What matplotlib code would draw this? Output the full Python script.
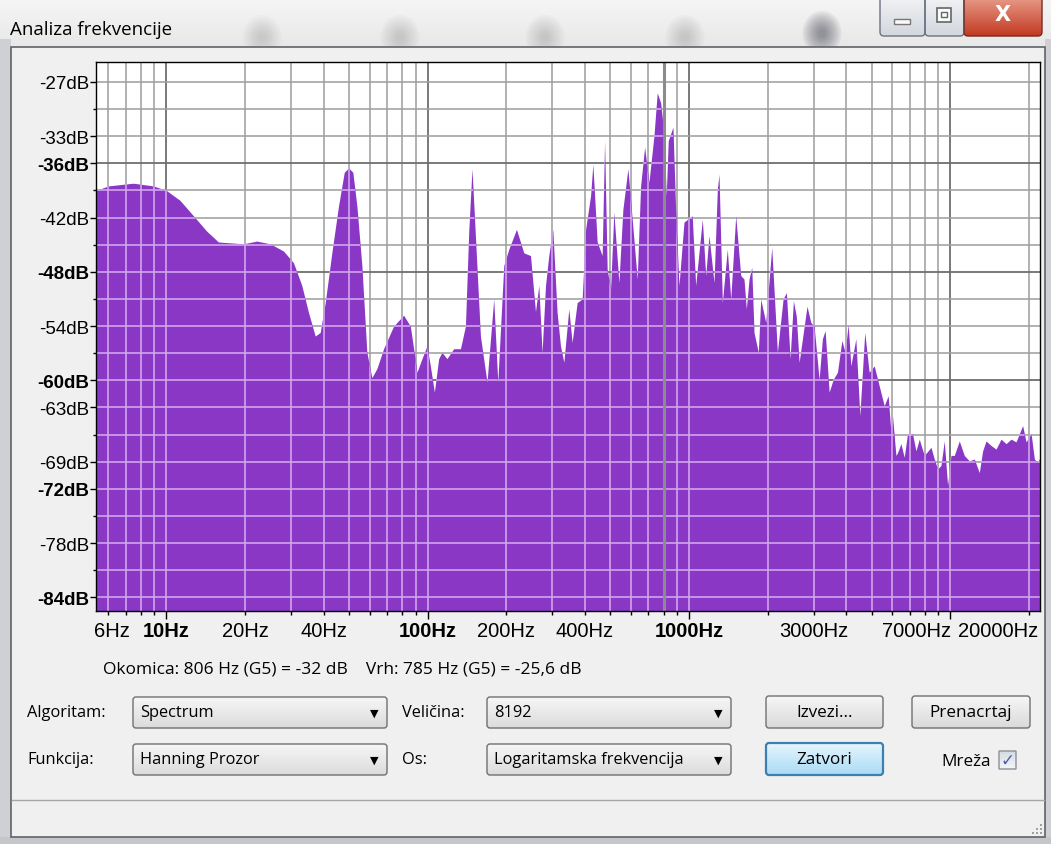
import numpy as np
import matplotlib
matplotlib.use("Agg")
import matplotlib.pyplot as plt
from matplotlib.patches import Rectangle, FancyBboxPatch, Ellipse
from matplotlib.colors import to_rgb
from matplotlib import transforms

# spectrum (Hz, dB)
freq = [5.38, 6.0, 7.47, 8.92, 10.0, 11.28, 12.69, 14.27, 15.82, 19.72, 22.18, 24.96,
        28.08, 30.66, 32.98, 35.0, 37.13, 38.8, 40.55, 42.98, 45.6, 47.95, 49.81, 51.73,
        53.59, 56.01, 58.53, 61.17, 63.92, 67.82, 74.06, 80.91, 85.83, 88.38, 91.0, 95.1,
        99.4, 102.4, 106.1, 110.2, 113.4, 118.5, 125.8, 133.5, 139.5, 143.6, 147.8, 152.3,
        159.2, 168.7, 179.0, 185.5, 195.6, 204.4, 218.7, 233.3, 247.5, 258.6, 266.3, 274.1,
        282.5, 290.8, 301.2, 312.9, 322.4, 332.0, 346.9, 357.2, 373.3, 390.2, 402.1, 420.2,
        428.8, 445.4, 465.4, 475.4, 486.4, 501.2, 516.0, 539.3, 558.6, 583.9, 603.3, 633.8,
        653.1, 676.6, 702.7, 734.4, 756.0, 779.1, 802.1, 818.5, 833.2, 868.5, 889.3, 915.8,
        957.2, 1029, 1061, 1125, 1159, 1193, 1247, 1284, 1303, 1342, 1402, 1445,
        1510, 1578, 1624, 1658, 1698, 1739, 1774, 1843, 1882, 1967, 2074, 2180,
        2292, 2360, 2438, 2510, 2575, 2640, 2830, 2926, 3013, 3148, 3241, 3320,
        3440, 3563, 3701, 3848, 3960, 4067, 4164, 4352, 4508, 4707, 4893, 5116,
        5346, 5587, 5786, 5926, 6010, 6194, 6282, 6473, 6665, 6862, 7172, 7390,
        7608, 7952, 8438, 8687, 8942, 9215, 9485, 9766, 10062, 10359, 10827, 11314,
        11824, 12359, 12915, 13298, 13703, 14320, 14966, 15642, 16347, 17084, 17851, 18923,
        19498, 20385, 20985, 21606, 22050]
level = [-39.0, -38.5, -38.2, -38.5, -39.0, -40.1, -41.8, -43.5, -44.7, -44.9, -44.6, -44.9,
         -45.7, -47.0, -49.5, -52.5, -55.1, -54.7, -51.4, -45.9, -40.7, -37.0, -36.5, -37.0,
         -40.7, -47.3, -56.9, -59.7, -58.7, -56.5, -54.0, -52.8, -54.0, -56.5, -59.1, -57.6,
         -56.2, -58.4, -61.3, -57.6, -56.9, -57.6, -56.5, -56.5, -54.0, -43.6, -36.6, -44.0,
         -55.1, -60.2, -51.0, -60.2, -47.3, -45.5, -43.3, -45.9, -46.2, -52.4, -49.5, -56.9,
         -49.5, -46.2, -43.3, -52.5, -56.2, -58.0, -52.1, -55.8, -51.4, -51.0, -43.3, -39.6,
         -36.1, -44.7, -46.2, -33.5, -47.7, -49.9, -41.4, -49.2, -41.1, -36.6, -41.4, -48.8,
         -38.5, -34.2, -38.1, -33.0, -28.2, -29.3, -32.6, -39.6, -33.5, -32.0, -41.1, -49.5,
         -42.5, -41.8, -49.5, -42.2, -48.4, -44.0, -49.2, -38.9, -37.2, -51.4, -45.5, -51.0,
         -41.8, -48.4, -48.8, -52.1, -48.8, -47.5, -54.7, -56.9, -51.0, -53.6, -45.3, -56.9,
         -51.0, -50.3, -57.6, -51.2, -52.9, -58.0, -51.8, -53.6, -54.0, -59.9, -55.4, -54.5,
         -61.3, -59.9, -59.1, -55.6, -56.9, -53.8, -58.4, -55.4, -63.9, -54.7, -59.1, -58.4,
         -60.6, -62.8, -61.7, -65.7, -63.9, -68.3, -68.0, -67.0, -68.5, -65.9, -65.9, -67.8,
         -66.5, -68.3, -67.4, -68.7, -69.8, -69.4, -66.7, -71.6, -68.3, -68.3, -66.7, -68.3,
         -68.9, -68.7, -70.2, -67.8, -66.7, -67.2, -67.6, -66.5, -67.0, -66.5, -66.8, -65.0,
         -66.8, -65.9, -68.7, -69.1, -68.5]

y_labels = [-27, -33, -36, -42, -48, -54, -60, -63, -69, -72, -78, -84]
y_bold = [-36, -48, -60, -72, -84]
y_minor = [-30, -39, -45, -51, -57, -66, -75, -81]
x_labels = [6, 10, 20, 40, 100, 200, 400, 1000, 3000, 7000, 20000]
x_bold = [10, 100, 1000]
grid_hz = [6, 7, 8, 9, 10, 20, 30, 40, 50, 60, 70, 80, 90, 100, 200, 300, 400, 500,
           600, 700, 800, 900, 1000, 2000, 3000, 4000, 5000, 6000, 7000, 8000, 9000,
           10000, 20000]
decades = [10, 100, 1000, 10000]
cursor_hz = 806
status = "Okomica: 806 Hz (G5) = -32 dB    Vrh: 785 Hz (G5) = -25,6 dB"

W, H = 1051, 845
purple = "#8a37c6"
lavender = "#d3a9ee"
ui_font = "Open Sans"
ax_font = "Liberation Sans"
ui_size = 11.8

fig = plt.figure(figsize=(W / 100, H / 100), dpi=100)
fig.patch.set_facecolor("#f0f0f0")

# window chrome drawn in pixel coordinates
bg = fig.add_axes([0, 0, 1, 1], zorder=0)
bg.set_autoscale_on(False)
bg.set_xlim(0, W)
bg.set_ylim(H, 0)
bg.axis("off")


def grad_box(x, y, w, h, c_top, c_bot, edge, r=3, lw=1.0, z=2):
    patch = FancyBboxPatch((x, y), w, h, boxstyle=f"round,pad=0,rounding_size={r}",
                           fc="none", ec=edge, lw=lw, zorder=z + 1)
    bg.add_patch(patch)
    t = np.linspace(0, 1, 40)[:, None]
    img = (np.array(to_rgb(c_top)) * (1 - t) + np.array(to_rgb(c_bot)) * t)[:, None, :]
    im = bg.imshow(img, extent=[x, x + w, y + h, y], aspect="auto", zorder=z,
                   interpolation="bilinear")
    im.set_clip_path(patch)
    return patch


# title bar (aero glass look, with blurred shapes behind it)
grad_box(0, -10, W, 58, "#f8f8f8", "#e8e8e8", "none", r=0, lw=0, z=0)
for cx, cy, c, a in [(262, 38, "#808080", 0.035), (400, 38, "#808080", 0.04),
                     (545, 38, "#808080", 0.04), (685, 38, "#808080", 0.04),
                     (822, 34, "#383848", 0.07)]:
    for s in np.linspace(1.3, 0.25, 9):
        bg.add_patch(Ellipse((cx, cy), 30 * s, 34 * s, fc=c, ec="none", alpha=a, zorder=0.5))
bg.text(10, 30, "Analiza frekvencije", fontsize=13.5, family=ui_font, va="center",
        ha="left", color="black", zorder=5)

# caption buttons
grad_box(880, -6, 45, 43, "#f4f5f7", "#d3d7de", "#6b7280", r=4, z=4)
grad_box(925, -6, 39, 43, "#f4f5f7", "#d3d7de", "#6b7280", r=4, z=4)
grad_box(964, -6, 78, 43, "#eba593", "#c23a22", "#7a2a20", r=4, z=4)
bg.add_patch(Rectangle((894, 20), 16, 5, fc="#fafafa", ec="#777777", lw=1, zorder=7))
bg.add_patch(Rectangle((937, 9), 14, 14, fc="#fafafa", ec="#666666", lw=1.2, zorder=7))
bg.add_patch(Rectangle((941, 13), 6, 5, fc="none", ec="#666666", lw=1, zorder=8))
bg.text(1003, 15, "X", fontsize=15, family="DejaVu Sans", weight="bold", color="white",
        ha="center", va="center", zorder=8)

# frame and client area
bg.add_patch(Rectangle((0, 40), 11, 805, fc="#cfd0d4", ec="none", zorder=1))
bg.add_patch(Rectangle((1045, 40), 6, 805, fc="#cfd0d4", ec="none", zorder=1))
bg.add_patch(Rectangle((0, 838), W, 7, fc="#c4c6ca", ec="none", zorder=1))
bg.add_patch(Rectangle((11, 48), 1034, 790, fc="#f0f0f0", ec="#5f6368", lw=1.2, zorder=1.5))
bg.plot([12, 1044], [801, 801], color="#a7a7a7", lw=1, zorder=2)
for gx, gy in [(1040, 833), (1036, 833), (1032, 833), (1040, 829), (1036, 829), (1040, 825)]:
    bg.add_patch(Rectangle((gx, gy), 2, 2, fc="#a0a0a0", ec="none", zorder=2))

# readout line
bg.text(103, 670, status, fontsize=12.5, family=ui_font, va="center", ha="left")

# controls
for txt, x, y in [("Algoritam:", 27, 713), ("Funkcija:", 27, 760),
                  ("Veličina:", 402, 713), ("Os:", 402, 760)]:
    bg.text(x, y, txt, fontsize=ui_size, family=ui_font, va="center", ha="left")

for txt, x, y, w in [("Spectrum", 133, 698, 254), ("Hanning Prozor", 133, 745, 254),
                     ("8192", 487, 698, 244), ("Logaritamska frekvencija", 487, 745, 244)]:
    grad_box(x, y, w, 31, "#f6f6f6", "#dcdcdc", "#707070", r=3)
    bg.text(x + 7, y + 15.5, txt, fontsize=ui_size, family=ui_font, va="center", ha="left", zorder=5)
    bg.text(x + w - 13, y + 16, "▼", fontsize=8, family="DejaVu Sans", va="center",
            ha="center", zorder=5)

grad_box(766, 697, 117, 32, "#f6f6f6", "#dadada", "#707070", r=3)
bg.text(824.5, 713, "Izvezi...", fontsize=12.3, family=ui_font, va="center", ha="center", zorder=5)
grad_box(912, 697, 118, 32, "#f6f6f6", "#dadada", "#707070", r=3)
bg.text(971, 713, "Prenacrtaj", fontsize=12.3, family=ui_font, va="center", ha="center", zorder=5)
grad_box(766, 744, 117, 32, "#e7f5fd", "#a9dbf6", "#3c80b0", r=3, lw=1.6)
bg.text(824.5, 760, "Zatvori", fontsize=12.3, family=ui_font, va="center", ha="center", zorder=5)

bg.text(991, 762, "Mreža", fontsize=12.3, family=ui_font, va="center", ha="right")
grad_box(999, 752, 17, 18, "#d6dbe3", "#f4f6f9", "#8a8f99", r=0, lw=1)
bg.text(1007.5, 761, "✓", fontsize=12, family="DejaVu Sans", weight="bold", color="#4a5ea6",
        va="center", ha="center", zorder=6)

# spectrum plot
ax = fig.add_axes([96 / W, 1 - 612 / H, (1040 - 96) / W, (612 - 63) / H], zorder=1)
ax.set_xscale("log")
ax.set_xlim(5.38, 22050)
ax.set_ylim(-85.5, -24.8)
ax.set_facecolor("white")

grid_lines = []
for f in grid_hz:
    dark = f in decades
    ax.axvline(f, color="#6e6e6e" if dark else "#a0a0a0", lw=1.3 if dark else 1.15, zorder=1)
    grid_lines.append(("v", f))
for v in sorted(y_labels + y_minor):
    dark = v in y_bold
    ax.axhline(v, color="#6e6e6e" if dark else "#a0a0a0", lw=1.3 if dark else 1.15, zorder=1)
    grid_lines.append(("h", v))

poly = ax.fill_between(freq, level, -90, color=purple, lw=0, zorder=2)
clip = poly.get_paths()[0]
for kind, v in grid_lines:
    if kind == "v":
        ln = ax.axvline(v, color=lavender, lw=1.15, zorder=3)
    else:
        ln = ax.axhline(v, color=lavender, lw=1.15, zorder=3)
    ln.set_clip_path(clip, ax.transData)

ax.axvline(cursor_hz, color="#8c8c8c", lw=2.2, zorder=4)

for sp in ax.spines.values():
    sp.set_color("black")
    sp.set_linewidth(1.0)
    sp.set_zorder(5)

ax.set_yticks(y_labels)
ax.set_yticklabels([f"{v}dB" for v in y_labels])
ax.set_yticks(y_minor, minor=True)
for lab, v in zip(ax.get_yticklabels(), y_labels):
    lab.set_family(ax_font)
    lab.set_fontsize(13.5)
    if v in y_bold:
        lab.set_fontweight("bold")
ax.tick_params(axis="y", which="major", length=4, width=1, pad=1, direction="out")
ax.tick_params(axis="y", which="minor", length=2, width=1, direction="out")

ax.set_xticks(decades)
ax.set_xticks([f for f in grid_hz if f not in decades], minor=True)
ax.set_xticklabels([])
ax.set_xticklabels([], minor=True)
ax.tick_params(axis="x", which="major", length=6, width=1, direction="out")
ax.tick_params(axis="x", which="minor", length=3, width=1, direction="out")

lab_tr = transforms.blended_transform_factory(ax.transData, bg.transData)
for f in x_labels:
    ha = "center"
    dx = 0
    if f == 20000:
        ha, dx = "right", 9
    elif f == 7000:
        dx = 7
    elif f == 6:
        dx = 4
    ax.text(f, 632, f"{f}Hz",
            transform=lab_tr + transforms.ScaledTranslation(dx / 100, 0, fig.dpi_scale_trans),
            fontsize=14.5, family=ax_font, ha=ha, va="center",
            weight="bold" if f in x_bold else "normal", clip_on=False)

fig.savefig("out.png", dpi=100, facecolor=fig.get_facecolor())
